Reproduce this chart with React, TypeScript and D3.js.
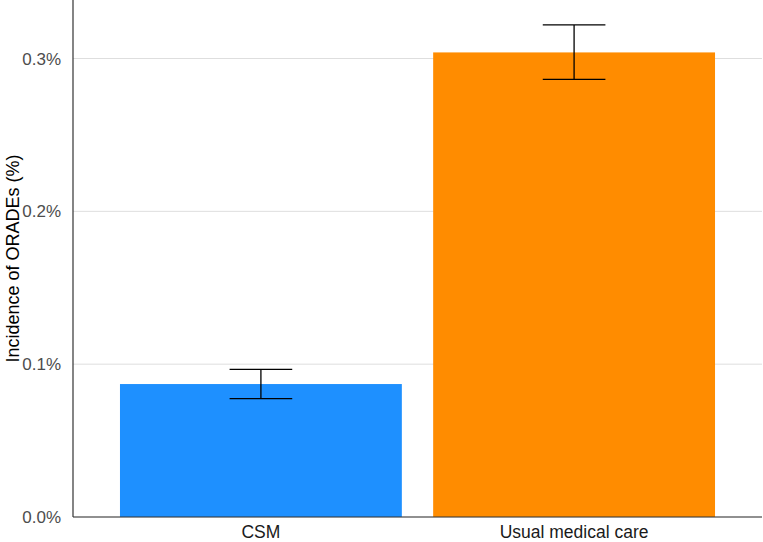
import { useEffect, useRef } from "react";
import * as d3 from "d3";

const CATEGORIES = ["CSM", "Usual medical care"];
const INCIDENCE = [0.087, 0.304];
const CI_LOW = [0.0775, 0.2864];
const CI_HIGH = [0.0966, 0.322];
const BAR_COLORS = ["#1E90FF", "#FF8C00"];
const Y_TICKS = [0, 0.1, 0.2, 0.3];

const WIDTH = 763;
const HEIGHT = 542;
const MARGIN = { top: 0, right: 1, bottom: 25, left: 73 };
const FONT = "'Liberation Sans', Arial, sans-serif";

function drawChart(svgEl: SVGSVGElement) {
  const svg = d3.select(svgEl);
  svg.selectAll("*").remove();

  const innerW = WIDTH - MARGIN.left - MARGIN.right;
  const innerH = HEIGHT - MARGIN.top - MARGIN.bottom;

  const x = d3
    .scaleBand<string>()
    .domain(CATEGORIES)
    .range([0, innerW])
    .paddingInner(0.1)
    .paddingOuter(0.15);
  const y = d3.scaleLinear().domain([0, 0.3383]).range([innerH, 0]);

  const g = svg
    .append("g")
    .attr("transform", `translate(${MARGIN.left},${MARGIN.top})`);

  // gridlines
  g.selectAll("line.grid")
    .data(Y_TICKS)
    .join("line")
    .attr("class", "grid")
    .attr("x1", 0)
    .attr("x2", innerW)
    .attr("y1", (d) => y(d))
    .attr("y2", (d) => y(d))
    .attr("stroke", "#dedede")
    .attr("stroke-width", 1);

  // bars
  g.selectAll("rect.bar")
    .data(CATEGORIES)
    .join("rect")
    .attr("class", "bar")
    .attr("x", (d) => x(d)!)
    .attr("width", x.bandwidth())
    .attr("y", (_, i) => y(INCIDENCE[i]))
    .attr("height", (_, i) => innerH - y(INCIDENCE[i]))
    .attr("fill", (_, i) => BAR_COLORS[i]);

  // error bars
  const capW = x.step() * 0.2;
  CATEGORIES.forEach((cat, i) => {
    const cx = x(cat)! + x.bandwidth() / 2;
    const eg = g.append("g").attr("stroke", "#000").attr("stroke-width", 1.3);
    eg.append("line")
      .attr("x1", cx).attr("x2", cx)
      .attr("y1", y(CI_LOW[i])).attr("y2", y(CI_HIGH[i]));
    [CI_LOW[i], CI_HIGH[i]].forEach((v) => {
      eg.append("line")
        .attr("x1", cx - capW / 2).attr("x2", cx + capW / 2)
        .attr("y1", y(v)).attr("y2", y(v));
    });
  });

  // axes lines
  g.append("line")
    .attr("x1", 0).attr("x2", 0)
    .attr("y1", 0).attr("y2", innerH)
    .attr("stroke", "#333").attr("stroke-width", 1.2);
  g.append("line")
    .attr("x1", 0).attr("x2", innerW)
    .attr("y1", innerH).attr("y2", innerH)
    .attr("stroke", "#333").attr("stroke-width", 1.2);

  // y tick labels
  g.selectAll("text.ytick")
    .data(Y_TICKS)
    .join("text")
    .attr("class", "ytick")
    .attr("x", -12)
    .attr("y", (d) => y(d))
    .attr("dy", "0.36em")
    .attr("text-anchor", "end")
    .attr("font-family", FONT)
    .attr("font-size", 17)
    .attr("fill", "#4d4d4d")
    .text((d) => `${d.toFixed(1)}%`);

  // x tick labels
  g.selectAll("text.xtick")
    .data(CATEGORIES)
    .join("text")
    .attr("class", "xtick")
    .attr("x", (d) => x(d)! + x.bandwidth() / 2)
    .attr("y", innerH + 21)
    .attr("text-anchor", "middle")
    .attr("font-family", FONT)
    .attr("font-size", 17.5)
    .attr("fill", "#1a1a1a")
    .text((d) => d);

  // y title
  svg.append("text")
    .attr("transform", `translate(19,${MARGIN.top + innerH / 2}) rotate(-90)`)
    .attr("text-anchor", "middle")
    .attr("font-family", FONT)
    .attr("font-size", 18)
    .attr("fill", "#000")
    .text("Incidence of ORADEs (%)");
}

export default function App() {
  const ref = useRef<SVGSVGElement>(null);

  useEffect(() => {
    if (ref.current) drawChart(ref.current);
  }, []);

  return (
    <svg
      ref={ref}
      width={WIDTH}
      height={HEIGHT}
      style={{ position: "absolute", left: 0, top: 0, background: "#fff" }}
    />
  );
}
